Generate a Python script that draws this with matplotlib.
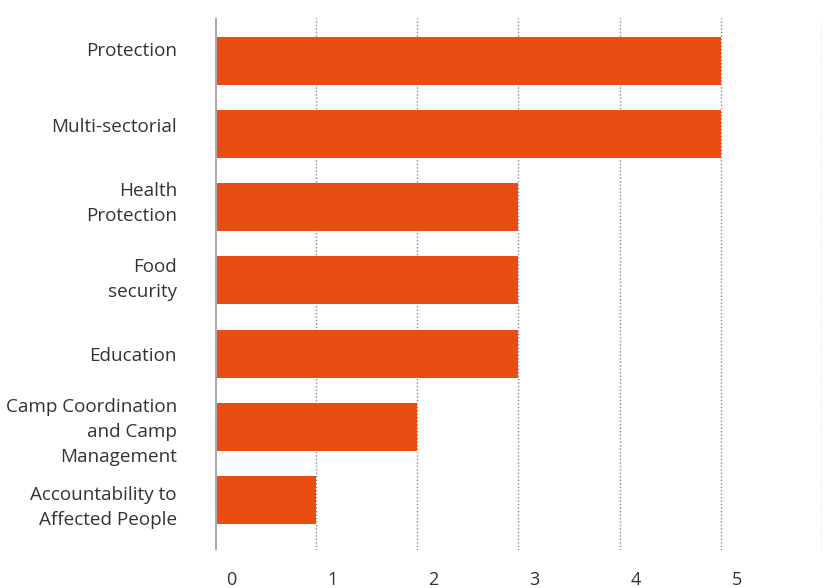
import matplotlib.pyplot as plt
from matplotlib.transforms import ScaledTranslation, blended_transform_factory

categories = [
    "Protection",
    "Multi-sectorial",
    "Health\nProtection",
    "Food\nsecurity",
    "Education",
    "Camp Coordination\nand Camp\nManagement",
    "Accountability to\nAffected People",
]
values = [5, 5, 3, 3, 3, 2, 1]
ticks = [0, 1, 2, 3, 4, 5, 6]
tick_labels = ["0", "1", "2", "3", "4", "5", ""]

bar_color = "#E84E12"
text_color = "#333333"

plt.rcParams["font.family"] = ["Open Sans", "DejaVu Sans"]

fig = plt.figure(figsize=(8.37, 5.88), dpi=100)
ax = fig.add_axes([215 / 837, 1 - 550 / 588, 607 / 837, 532 / 588])

pos = list(range(len(categories)))
ax.barh(pos, values, height=0.656, color=bar_color, zorder=3)

ax.set_xlim(0, 6)
ax.set_ylim(6.683, -0.587)

# dotted vertical gridlines, solid base line at zero
for t in ticks[1:]:
    ax.axvline(t, color="#888888", lw=1.0, ls=(0, (1, 1.5)), zorder=1)
ax.axvline(0, color="#aaaaaa", lw=2.2, zorder=4)

for s in ax.spines.values():
    s.set_visible(False)

# category labels sit on a slightly wider, even rhythm than the bars
ax.set_yticks([])
lbl_trans = blended_transform_factory(ax.transAxes, ax.transData) + \
    ScaledTranslation(-38 / 100, 0, fig.dpi_scale_trans)
for i, name in enumerate(categories):
    ax.text(0, -0.137 + 1.041 * i, name, transform=lbl_trans, ha="right",
            va="center", fontsize=13.6, color=text_color, linespacing=1.5)

ax.set_xticks(ticks)
ax.set_xticklabels(tick_labels, fontsize=13, color=text_color)
ax.tick_params(axis="x", length=0, pad=15)
offset = ScaledTranslation(16 / 100, 0, fig.dpi_scale_trans)
for lbl in ax.get_xticklabels():
    lbl.set_transform(lbl.get_transform() + offset)

fig.savefig("out.png", dpi=100)
